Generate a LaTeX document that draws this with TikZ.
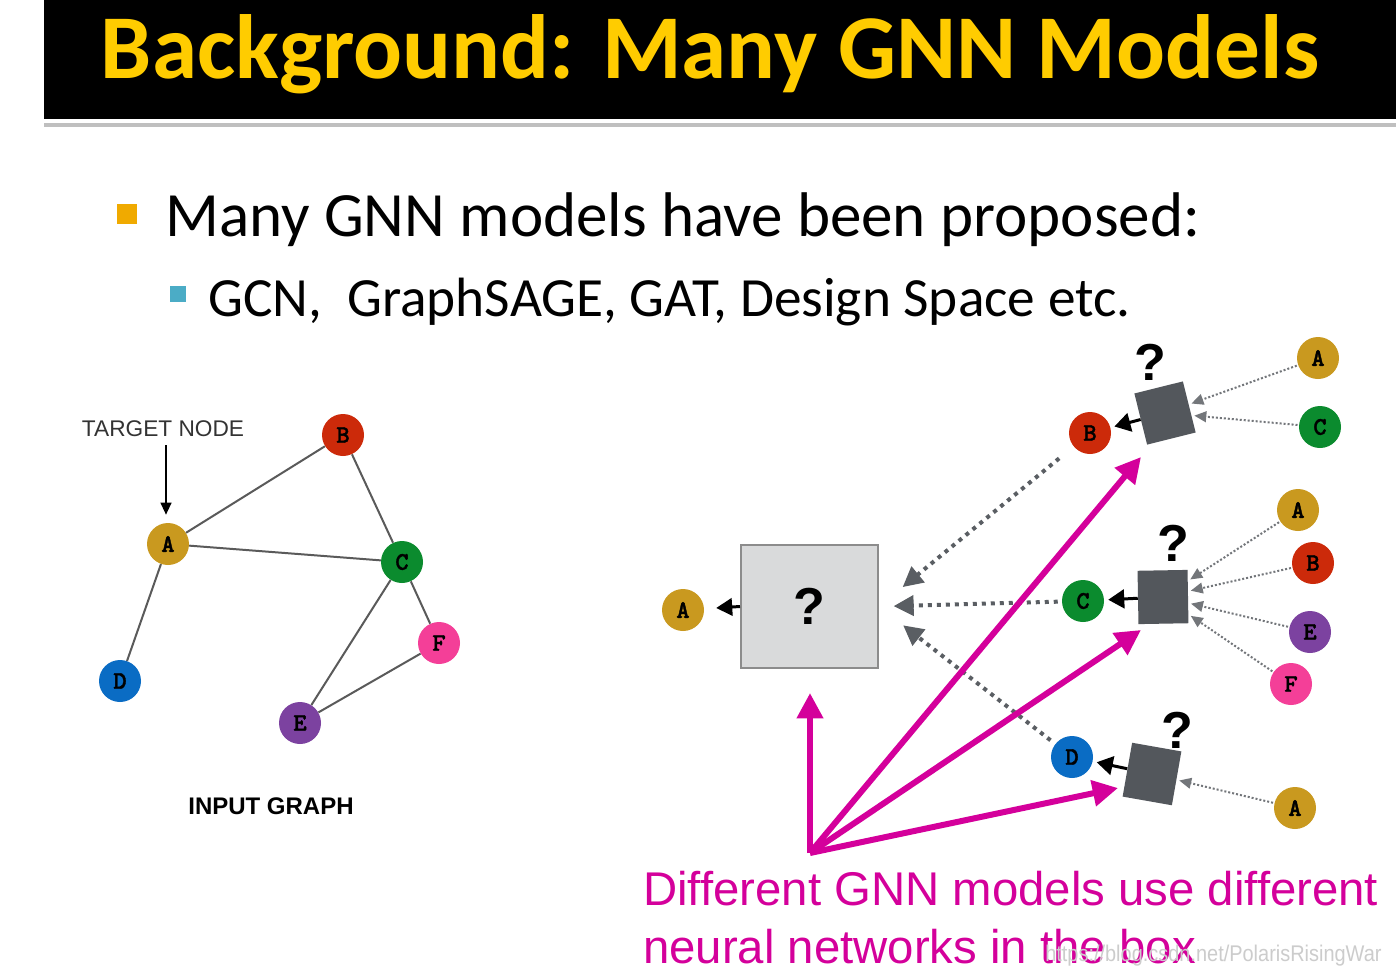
\documentclass[tikz,border=0pt]{standalone}
\usepackage{fontspec}
\setmainfont{Carlito}
\newfontfamily\arialf{Liberation Sans}
\newfontfamily\monof{lmmonolt10-bold.otf}[FakeBold=1.5]
\usetikzlibrary{arrows.meta,calc}
\definecolor{tyellow}{HTML}{FFCC00}
\definecolor{borange}{HTML}{F0AA00}
\definecolor{bcyan}{HTML}{4BACC6}
\definecolor{cgold}{HTML}{C9991F}
\definecolor{cred}{HTML}{CC2A0A}
\definecolor{cgreen}{HTML}{0B8B2E}
\definecolor{cblue}{HTML}{0A6CC4}
\definecolor{cpurple}{HTML}{7C42A0}
\definecolor{cpink}{HTML}{F43F98}
\definecolor{cmag}{HTML}{D4009B}
\definecolor{sqdark}{HTML}{53575C}
\definecolor{boxfill}{HTML}{D9DADB}
\definecolor{boxline}{HTML}{8C8C8C}
\definecolor{edgegray}{HTML}{5A5A5A}
\definecolor{dotgray}{HTML}{5A5E63}
\begin{document}
\begin{tikzpicture}[x=0.75pt,y=-0.75pt,
  gn/.style={circle, fill=#1, minimum size=31.5pt, inner sep=0pt,
    font=\monof\fontsize{19}{19}\selectfont},
  gedge/.style={draw=edgegray, line width=1.5pt},
  sqbox/.style={fill=sqdark, minimum width=37.5pt, minimum height=40pt, inner sep=0pt},
  qmark/.style={font=\arialf\bfseries\fontsize{39}{40}\selectfont, inner sep=0pt},
  blkarr/.style={draw=black, line width=2.25pt, -{Triangle[length=12pt,width=14pt]}, shorten >=3pt},
  dotbig/.style={draw=dotgray, line width=3pt, dash pattern=on 3pt off 3.75pt,
    -{Triangle[length=15pt,width=15pt]}},
  dotsmall/.style={draw=dotgray!85, line width=1.5pt, dash pattern=on 1.5pt off 1.5pt,
    -{Triangle[length=9pt,width=8pt]}, shorten >=2pt, shorten <=1pt},
  magarr/.style={draw=cmag, line width=4.5pt, -{Triangle[length=19pt,width=19pt]}},
  bullet/.style={rectangle, fill=#1, inner sep=0pt},
]
\useasboundingbox (0,0) rectangle (1400,971);
\fill[white] (0,0) rectangle (1400,971);
% title bar
\fill[black] (44,0) rectangle (1396,119);
\fill[black!25] (44,123) rectangle (1396,127);
\node[anchor=base, text=tyellow, font=\bfseries\fontsize{68.4}{80}\selectfont, inner sep=0pt]
  (title) at (710,78) {Background: Many GNN Models};
% bullets
\node[bullet=borange, minimum size=15pt] (b1) at (127,214) {};
\node[anchor=base west, font=\fontsize{47.3}{56}\selectfont, inner sep=0pt] (l1) at (165,236)
  {Many GNN models have been proposed:};
\node[bullet=bcyan, minimum size=12pt] (b2) at (178,294) {};
\node[anchor=base west, font=\fontsize{41.5}{50}\selectfont, inner sep=0pt] (l2) at (208,316)
  {GCN,\ \ GraphSAGE, GAT, Design Space etc.};
% input graph
\node[font=\arialf\fontsize{17}{20}\selectfont, text=black!80, inner sep=1pt] (tn) at (163,429) {TARGET NODE};
\node[gn=cgold] (ga) at (168,544) {A};
\node[gn=cred] (gb) at (343,435) {B};
\node[gn=cgreen] (gc) at (402,562) {C};
\node[gn=cblue] (gd) at (120,681) {D};
\node[gn=cpurple] (ge) at (300,723) {E};
\node[gn=cpink] (gf) at (439,643) {F};
\draw[black, line width=1.5pt, -{Triangle[length=9pt,width=8pt]}, shorten <=5pt, shorten >=6pt]
  (tn.south -| 166,0) -- (ga.north -| 166,0);
\draw[gedge] (ga) -- (gb);
\draw[gedge] (ga) -- (gc);
\draw[gedge] (ga) -- (gd);
\draw[gedge] (gb) -- (gc);
\draw[gedge] (gc) -- (ge);
\draw[gedge] (gc) -- (gf);
\draw[gedge] (ge) -- (gf);
\node[font=\arialf\bfseries\fontsize{18}{20}\selectfont] (ig) at (271,806) {INPUT GRAPH};
% big box
\node[gn=cgold] (ra) at (683,610) {A};
\node[draw=boxline, fill=boxfill, line width=1.5pt, minimum width=102.75pt, minimum height=92.25pt,
  font=\arialf\bfseries\fontsize{39}{40}\selectfont, inner sep=0pt] (bigbox) at (809.5,606.5) {?};
\draw[blkarr, shorten >=9pt, -{Triangle[length=12pt,width=13pt]}] (bigbox.west) -- (ra);
% upper small box
\node[sqbox, minimum height=39.5pt, rotate=14] (s1) at (1165,413) {};
\node[qmark] (q1) at (1150,362) {?};
\node[gn=cred] (ub) at (1090,433) {B};
\node[gn=cgold] (ua) at (1318,358) {A};
\node[gn=cgreen] (uc) at (1320,427) {C};
\draw[blkarr] (s1) -- (ub);
\draw[dotsmall] (ua) -- (s1);
\draw[dotsmall] (uc) -- (s1);
% middle small box
\node[sqbox, rotate=1] (s2) at (1163,597) {};
\node[qmark] (q2) at (1173,543) {?};
\node[gn=cgreen] (mc) at (1083,601) {C};
\node[gn=cgold] (ma) at (1298,510) {A};
\node[gn=cred] (mb) at (1313,563) {B};
\node[gn=cpurple] (me) at (1310,632) {E};
\node[gn=cpink] (mf) at (1291,684) {F};
\draw[blkarr] (s2) -- (mc);
\draw[dotsmall] (ma) -- (s2);
\draw[dotsmall] (mb) -- (s2);
\draw[dotsmall] (me) -- (s2);
\draw[dotsmall] (mf) -- (s2);
% lower small box
\node[sqbox, minimum height=41pt, rotate=-10] (s3) at (1152,774) {};
\node[qmark] (q3) at (1177,730) {?};
\node[gn=cblue] (ld) at (1072,757) {D};
\node[gn=cgold] (la) at (1295,808) {A};
\draw[blkarr] (s3) -- (ld);
\draw[dotsmall] (la) -- (s3);
% dotted arrows into big box
\draw[dotbig, shorten <=14pt, shorten >=23pt] (ub) -- (bigbox.east);
\draw[dotbig, shorten <=3pt, shorten >=11pt] (mc) -- (bigbox.east);
\draw[dotbig, shorten <=4.5pt, shorten >=23pt] (ld) -- (bigbox.east);
% magenta arrows
\coordinate (mo) at (810,853);
\coordinate (m1) at (810,693);
\coordinate (m2) at (1141,457);
\coordinate (m3) at (1141,630);
\coordinate (m4) at (1118,788);
\draw[magarr] (mo) -- (m1);
\draw[magarr] (mo) -- (m2);
\draw[magarr] (mo) -- (m3);
\draw[magarr] (mo) -- (m4);
% magenta text
\node[anchor=base west, text=cmag, font=\arialf\fontsize{35.5}{44}\selectfont, inner sep=0pt] (mt1) at (643,905)
  {Different GNN models use different};
\node[anchor=base west, text=cmag, font=\arialf\fontsize{35.5}{44}\selectfont, inner sep=0pt] (mt2) at (643,963)
  {neural networks in the box};
\node[anchor=base west, text=black!20, font=\arialf\fontsize{17}{20}\selectfont, inner sep=0pt] (wm) at (1045,961)
  {\scalebox{0.88}[1]{https://blog.csdn.net/PolarisRisingWar}};
\end{tikzpicture}
\end{document}
